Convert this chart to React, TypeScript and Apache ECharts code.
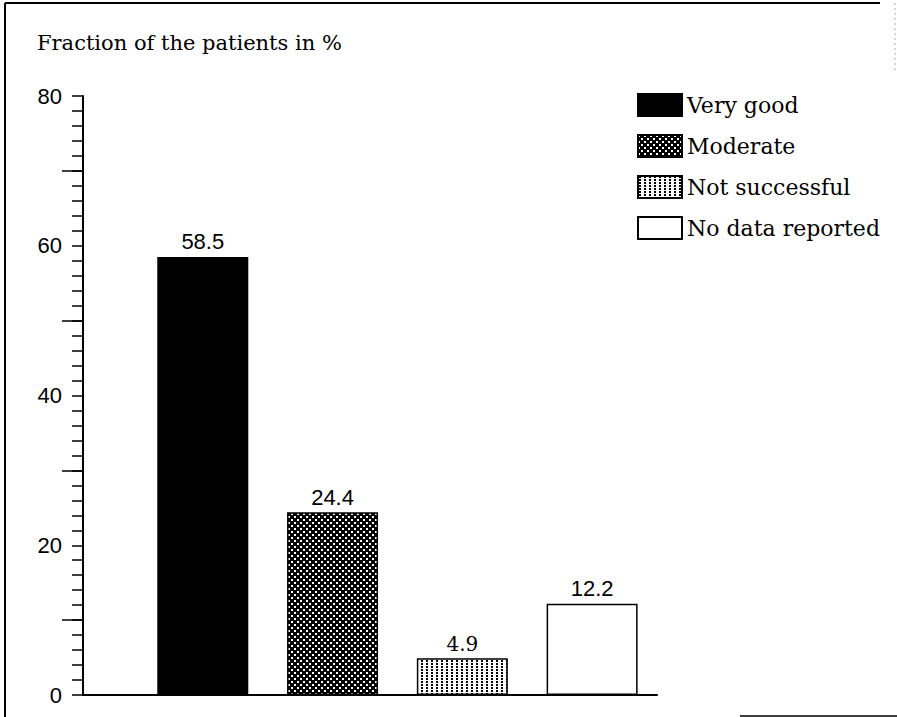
import React, { useEffect, useRef } from "react";
import * as echarts from "echarts";

const seriesNames = ["Very good", "Moderate", "Not successful", "No data reported"];
const seriesValues = [58.5, 24.4, 4.9, 12.2];
const seriesPositions = [0, 1, 2, 3];
const yTickLabels = [0, 20, 40, 60, 80];
const midTicks = [10, 30, 50, 70];
const titleText = "Fraction of the patients in %";

function makePattern(kind: string) {
  const c = document.createElement("canvas");
  const ctx = c.getContext("2d")!;
  if (kind === "dense") {
    c.width = 6;
    c.height = 6;
    ctx.fillStyle = "#000";
    ctx.fillRect(0, 0, 6, 6);
    ctx.fillStyle = "#fff";
    ctx.fillRect(0, 0, 2, 2);
    ctx.fillRect(3, 3, 2, 2);
  } else {
    c.width = 5;
    c.height = 3;
    ctx.fillStyle = "#fff";
    ctx.fillRect(0, 0, 5, 3);
    ctx.fillStyle = "#000";
    ctx.fillRect(1, 0, 2, 2);
  }
  return {
    image: c.toDataURL(),
    repeat: "repeat",
    imageWidth: c.width,
    imageHeight: c.height,
  } as any;
}

export default function App() {
  const ref = useRef<HTMLDivElement>(null);
  useEffect(() => {
    const chart = echarts.init(ref.current!, undefined, { renderer: "svg" });
    const fills: any[] = ["#000", makePattern("dense"), makePattern("light"), "#fff"];
    const labelFonts = ["Liberation Sans", "Liberation Sans", "DejaVu Serif", "Liberation Sans"];
    const labelSizes = [22, 22, 20, 22];
    const series = seriesNames.map((name, i) => ({
      name,
      type: "bar",
      xAxisIndex: 0,
      yAxisIndex: 0,
      barWidth: 91,
      barGap: "-100%",
      data: [[seriesPositions[i], seriesValues[i]]],
      itemStyle: { color: fills[i], borderColor: "#000", borderWidth: 1.5 },
      label: {
        show: true,
        position: "top",
        distance: 4,
        color: "#000",
        fontFamily: labelFonts[i],
        fontSize: labelSizes[i],
        formatter: (p: any) => String(p.value[1]),
      },
    }));
    chart.setOption({
      animation: false,
      backgroundColor: "#fff",
      grid: { left: 83, top: 96, right: 240, bottom: 22, containLabel: false },
      legend: {
        orient: "vertical",
        left: 637,
        top: 93,
        padding: 0,
        itemWidth: 44,
        itemHeight: 22,
        itemGap: 17,
        icon: "rect",
        data: seriesNames,
        textStyle: { fontFamily: "DejaVu Serif", fontSize: 22, color: "#000" },
      },
      xAxis: {
        type: "value",
        min: -0.923,
        max: 3.5,
        axisLine: { show: true, onZero: false, lineStyle: { color: "#000", width: 2 } },
        axisTick: { show: false },
        axisLabel: { show: false },
        splitLine: { show: false },
      },
      yAxis: [
        {
          type: "value",
          min: 0,
          max: 80,
          interval: 20,
          axisLine: { show: true, onZero: false, lineStyle: { color: "#000", width: 2 } },
          axisTick: { show: true, length: 11, lineStyle: { color: "#000", width: 1.5 } },
          minorTick: { show: true, splitNumber: 10, length: 11, lineStyle: { color: "#000", width: 1.5 } },
          axisLabel: {
            show: true,
            margin: 21,
            color: "#000",
            fontFamily: "Liberation Sans",
            fontSize: 22,
            customValues: yTickLabels,
          },
          splitLine: { show: false },
        },
        {
          type: "value",
          min: 0,
          max: 80,
          position: "left",
          axisLine: { show: false, onZero: false },
          axisLabel: { show: false },
          axisTick: { show: true, length: 21, customValues: midTicks, lineStyle: { color: "#000", width: 1.5 } },
          splitLine: { show: false },
        },
      ],
      graphic: [
        {
          type: "text",
          left: 37,
          top: 32,
          style: { text: titleText, fontFamily: "DejaVu Serif", fontSize: 21, fill: "#000" },
        },
        { type: "line", shape: { x1: 5, y1: 3, x2: 880, y2: 3 }, style: { stroke: "#000", lineWidth: 2 } },
        { type: "line", shape: { x1: 5, y1: 3, x2: 5, y2: 717 }, style: { stroke: "#000", lineWidth: 2 } },
        { type: "line", shape: { x1: 740, y1: 716, x2: 897, y2: 716 }, style: { stroke: "#000", lineWidth: 1.5 } },
        { type: "line", shape: { x1: 895, y1: 3, x2: 895, y2: 70 }, style: { stroke: "#aaa", lineWidth: 1, lineDash: [2, 3] } },
      ],
      series,
    });
    return () => chart.dispose();
  }, []);
  return <div ref={ref} style={{ position: "fixed", left: 0, top: 0, width: 897, height: 717 }} />;
}
